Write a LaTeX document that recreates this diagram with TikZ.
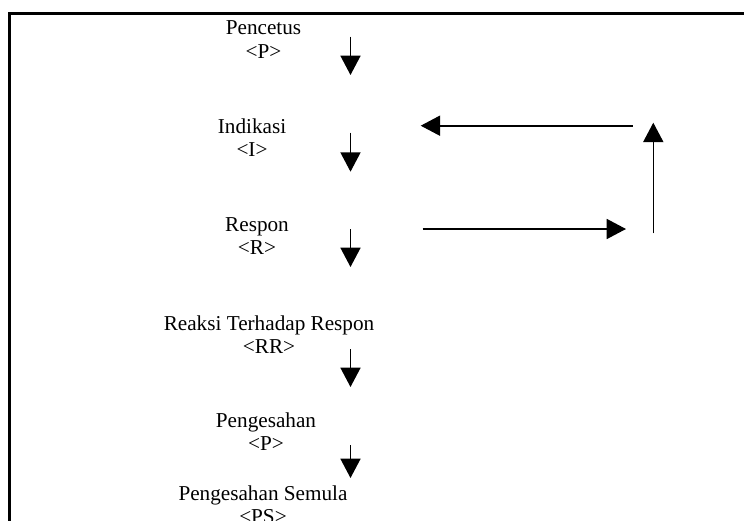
\documentclass[tikz,border=0pt]{standalone}
\usepackage{fontspec}
\setmainfont{Liberation Serif}
\usetikzlibrary{arrows.meta}
\newcommand\twoline[2]{\begin{tabular}[t]{@{}c@{}}#1\\#2\end{tabular}}
\begin{document}
\begin{tikzpicture}[x=0.75pt,y=-0.75pt,
  lbl/.style={anchor=base,inner sep=0pt,font=\fontsize{15.9}{17.25}\selectfont},
  flow/.style={line width=1.2pt,-{Triangle[length=14.5pt,width=15pt]}},
  frame/.style={line width=2pt}]
\useasboundingbox (0,0) rectangle (744,521);
% frame
\coordinate (fr1) at (744,13.5);
\coordinate (fr2) at (9.5,13.5);
\coordinate (fr3) at (9.5,521);
\draw[frame] (fr1) -- (fr2) -- (fr3);
% labels
\node[lbl] (p)  at (263.5,35)  {\twoline{Pencetus}{<P>}};
\node[lbl] (i)  at (252,133)   {\twoline{Indikasi}{<I>}};
\node[lbl] (r)  at (257,231.7) {\twoline{Respon}{<R>}};
\node[lbl] (rr) at (269,330)   {\twoline{Reaksi Terhadap Respon}{<RR>}};
\node[lbl] (pg) at (266,427)   {\twoline{Pengesahan}{<P>}};
\node[lbl] (ps) at (263,500)   {\twoline{Pengesahan Semula}{<PS>}};
% down arrows
\coordinate (a1s) at (350.5,36.7);  \coordinate (a1e) at (350.5,75);
\coordinate (a2s) at (350.5,132.7); \coordinate (a2e) at (350.5,171.7);
\coordinate (a3s) at (350.5,229);   \coordinate (a3e) at (350.5,267);
\coordinate (a4s) at (350.5,349);   \coordinate (a4e) at (350.5,387);
\coordinate (a5s) at (350.5,445);   \coordinate (a5e) at (350.5,478);
\draw[flow] (a1s) -- (a1e);
\draw[flow] (a2s) -- (a2e);
\draw[flow] (a3s) -- (a3e);
\draw[flow] (a4s) -- (a4e);
\draw[flow] (a5s) -- (a5e);
% feedback loop
\coordinate (ls) at (422.7,229);  \coordinate (le) at (626,229);
\coordinate (vs) at (653.3,233.3); \coordinate (ve) at (653.3,122.7);
\coordinate (us) at (632.7,125.7); \coordinate (ue) at (420.7,125.7);
\draw[flow] (ls) -- (le);
\draw[flow] (vs) -- (ve);
\draw[flow] (us) -- (ue);
\end{tikzpicture}
\end{document}
